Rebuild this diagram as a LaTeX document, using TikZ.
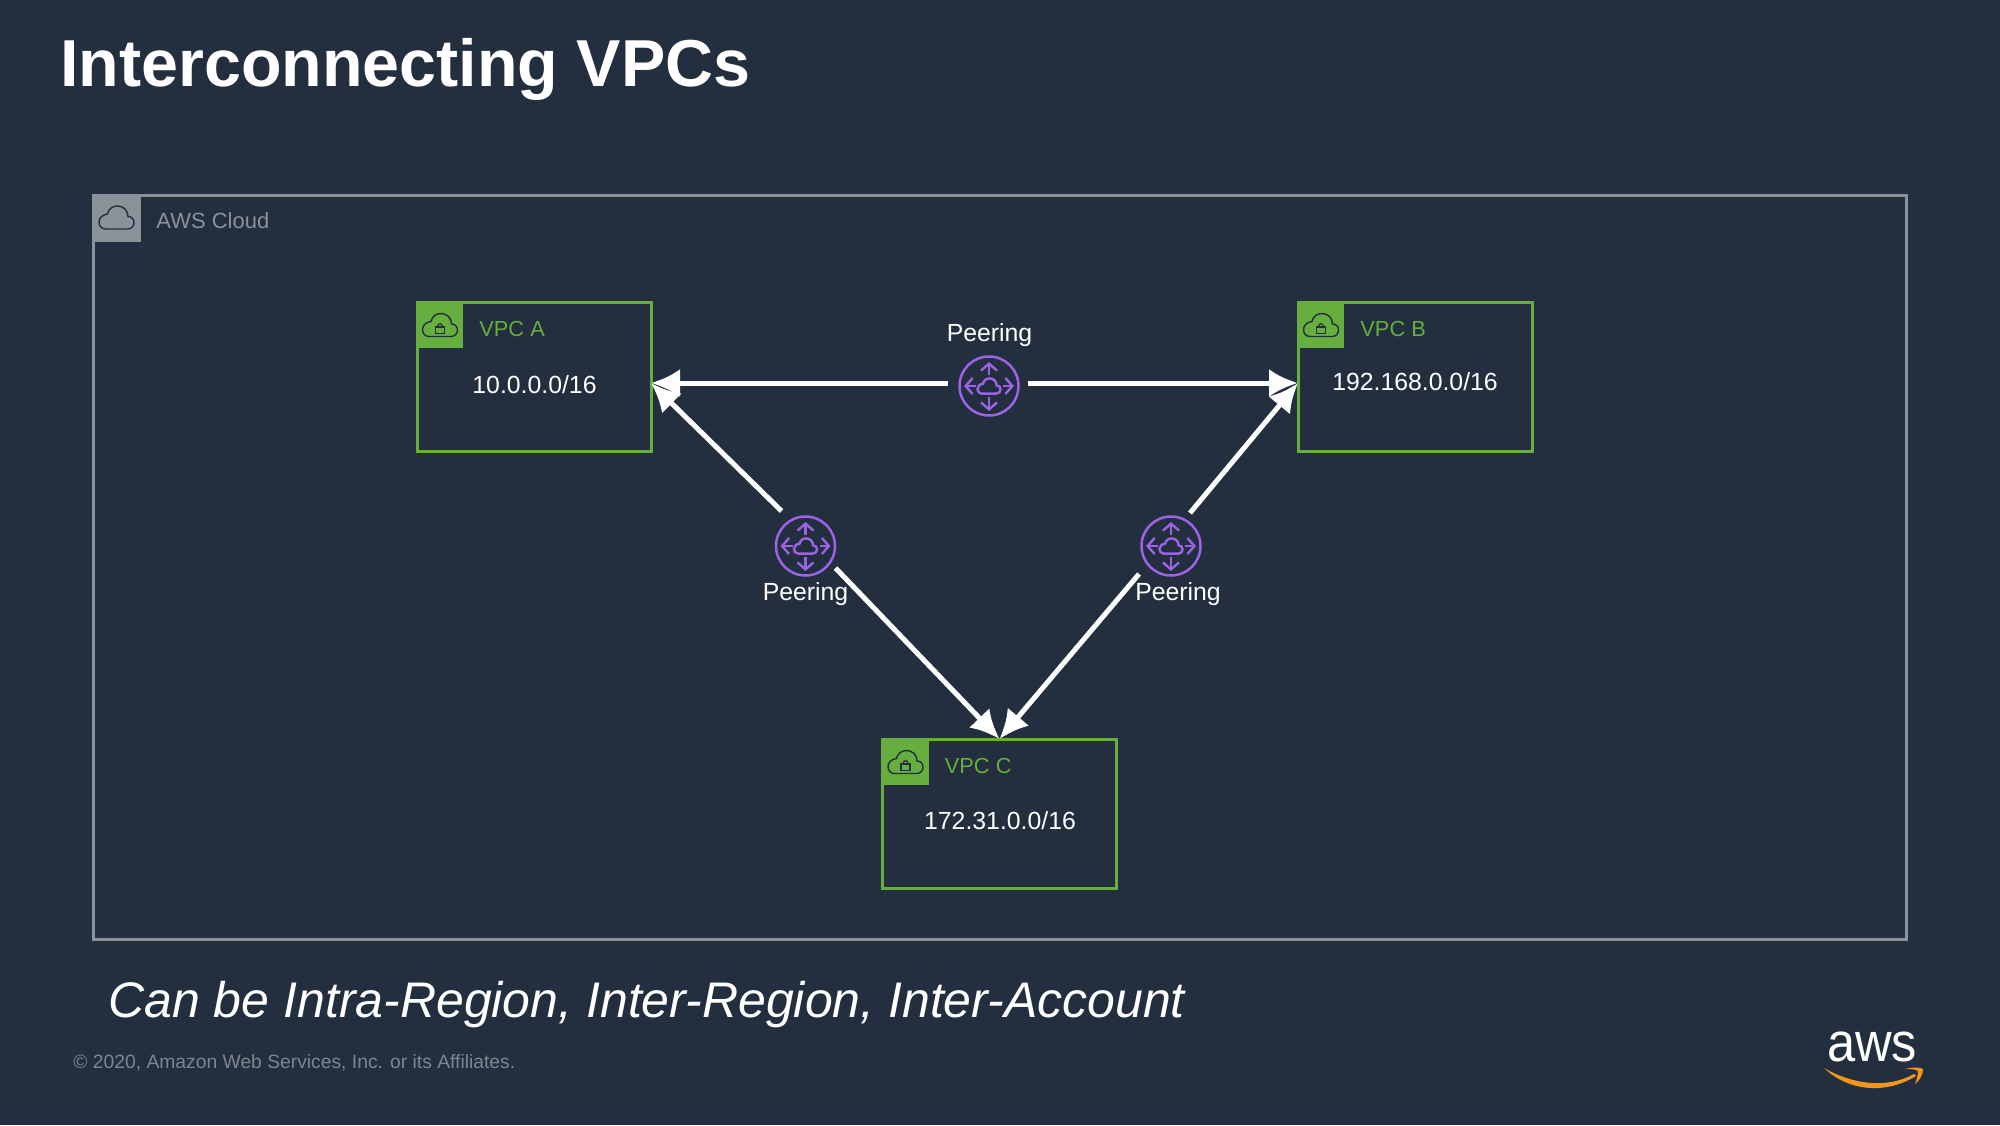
\documentclass[tikz,border=0pt]{standalone}
\usepackage{fontspec}
\setmainfont{Liberation Sans}
\usepackage{xcolor}
\definecolor{slidebg}{HTML}{232F3E}
\definecolor{cloudgray}{HTML}{8A9199}
\definecolor{footgray}{HTML}{7D8590}
\definecolor{vpcgreen}{HTML}{66AE3D}
\definecolor{peerpurple}{HTML}{9B63E6}
\definecolor{awsorange}{HTML}{F3971B}
\usetikzlibrary{arrows.meta, positioning}
\newcommand{\cloudpath}{(-11,11.5) -- (11,11.5) .. controls (15,11.5) and (17.5,8.5) .. (17.5,5) .. controls (17.5,1.5) and (15,-1) .. (11.5,-1) .. controls (11.5,-7) and (7,-11.5) .. (1,-11.5) .. controls (-4,-11.5) and (-8,-8.5) .. (-9,-3.5) .. controls (-14,-3) and (-17.5,0.5) .. (-17.5,4.5) .. controls (-17.5,8.5) and (-15,11.5) .. (-11,11.5) -- cycle}
\tikzstyle{frame}=[rectangle, draw=cloudgray, line width=1.5pt, minimum width=906.5pt, minimum height=372pt, inner sep=0pt, outer sep=0pt]
\tikzstyle{vpcbox}=[rectangle, draw=vpcgreen, line width=1.5pt, minimum width=117pt, minimum height=74.5pt, inner sep=0pt, outer sep=0pt]
\tikzstyle{vpctag}=[rectangle, fill=vpcgreen, minimum width=23pt, minimum height=23pt, inner sep=0pt, outer sep=0pt, anchor=north west]
\tikzstyle{cloudtag}=[rectangle, fill=cloudgray, minimum width=24.5pt, minimum height=24pt, inner sep=0pt, outer sep=0pt, anchor=north west]
\tikzstyle{peer}=[circle, draw=peerpurple, line width=1.25pt, minimum size=29.5pt, inner sep=0pt, outer sep=0pt]
\tikzstyle{label}=[inner sep=0pt, anchor=base, text=white, font=\fontsize{12.4}{14}\selectfont]
\tikzstyle{vpcname}=[inner sep=0pt, anchor=base west, text=vpcgreen, font=\fontsize{10.9}{13}\selectfont]
\tikzstyle{arrow}=[line width=2.5pt, white, -{Latex[length=14.5pt,width=14pt]}]
\tikzset{
	cloudicon/.pic={\draw[line width=.7pt, slidebg] \cloudpath;},
	lockicon/.pic={
		\draw[line width=.6pt, slidebg] (-4.5,0) rectangle (4.5,6.5);
		\draw[line width=.6pt, slidebg] (-2.5,0) .. controls (-2.5,-4.5) and (2.5,-4.5) .. (2.5,0);
	},
	peericon/.pic={
		\draw[line width=1.2pt, peerpurple, scale=.66] \cloudpath;
		\draw[line width=1.2pt, peerpurple, -{Straight Barb[length=3.5pt,width=8pt]}] (0,-11) -- (0,-24);
		\draw[line width=1.2pt, peerpurple, -{Straight Barb[length=3.5pt,width=8pt]}] (0,11) -- (0,25);
		\draw[line width=1.2pt, peerpurple, -{Straight Barb[length=3.5pt,width=8pt]}] (-13,0) -- (-25,0);
		\draw[line width=1.2pt, peerpurple, -{Straight Barb[length=3.5pt,width=8pt]}] (14,0) -- (25,0);
	}
}
\begin{document}
\begin{tikzpicture}[x=.5pt, y=-.5pt]
	\useasboundingbox (0,0) rectangle (2000,1125);
	\fill[slidebg] (0,0) rectangle (2000,1125);
	\node(title)[inner sep=0pt, anchor=base west, text=white, font=\fontsize{33.2}{40}\selectfont\bfseries] at (60,86){Interconnecting VPCs};

	\node(awscloud)[frame] at (999.5,567){};
	\node(cloudtagbox)[cloudtag] at (92,193.5){};
	\pic at (cloudtagbox){cloudicon};
	\node(cloudname)[inner sep=0pt, anchor=base west, text=cloudgray, font=\fontsize{11}{13}\selectfont, right=7.5pt of cloudtagbox.east, anchor=base west, yshift=-5.5pt]{AWS Cloud};

	\node(vpca)[vpcbox] at (534,376.5){};
	\node(vpcb)[vpcbox, right=323.5pt of vpca]{};
	\node(vpcc)[vpcbox] at (999.5,813.5){};
	\foreach \vpc/\name in {vpca/VPC A, vpcb/VPC B, vpcc/VPC C}{
		\node(\vpc tag)[vpctag] at (\vpc.north west){};
		\pic at (\vpc tag){cloudicon};
		\pic at ([yshift=-1pt]\vpc tag.center){lockicon};
		\node(\vpc name)[vpcname, right=8pt of \vpc tag.east, anchor=base west, yshift=-5.5pt]{\name};
	}
	\node(cidra)[label] at (534.5,393){10.0.0.0/16};
	\node(cidrb)[label] at (1415,390){192.168.0.0/16};
	\node(cidrc)[label] at (1000,829){172.31.0.0/16};

	\node(peerab)[peer] at (989,386){};
	\node(peerac)[peer] at (805.5,546){};
	\node(peerbc)[peer] at (1171,546){};
	\foreach \p in {peerab, peerac, peerbc}{
		\pic at (\p){peericon};
	}
	\node(labelab)[label] at (989.5,341){Peering};
	\node(labelac)[label] at (805.5,600){Peering};
	\node(labelbc)[label] at (1178,600){Peering};

	\draw[arrow]([shift={(-41,-3)}]peerab.center)--([shift={(0,6.5)}]vpca.east);
	\draw[arrow]([shift={(39,-3)}]peerab.center)--([shift={(0,6.5)}]vpcb.west);
	\draw[arrow]([shift={(-24,-35)}]peerac.center)--([shift={(0,6.5)}]vpca.east);
	\draw[arrow]([shift={(30,22)}]peerac.center)--(vpcc.north);
	\draw[arrow]([shift={(19,-33)}]peerbc.center)--([shift={(0,6.5)}]vpcb.west);
	\draw[arrow]([shift={(-32,28)}]peerbc.center)--(vpcc.north);

	\node(subtitle)[inner sep=0pt, anchor=base west, text=white, font=\fontsize{25}{29}\selectfont\itshape] at (108,1017){Can be Intra-Region, Inter-Region, Inter-Account};
	\node(copyright)[inner sep=0pt, anchor=base west, text=footgray, font=\fontsize{9.64}{12}\selectfont] at (73,1068){© 2020, Amazon Web Services, Inc. or its Affiliates.};

	\node(awsword)[inner sep=0pt, anchor=base, text=white, font=\fontsize{27.5}{31}\selectfont, xscale=.92, transform shape] at (1872,1061){aws};
	\fill[awsorange] (1824,1068) .. controls (1850,1083) and (1885,1090) .. (1914,1074) -- (1916,1076) .. controls (1885,1095) and (1848,1091) .. (1824,1068) -- cycle;
	\fill[awsorange] (1905,1069) .. controls (1912,1067) and (1920,1067) .. (1923,1069) .. controls (1923,1074) and (1920,1080) .. (1915,1084) .. controls (1917,1079) and (1918,1074) .. (1918,1071) .. controls (1915,1069) and (1910,1069) .. (1905,1069) -- cycle;
\end{tikzpicture}
\end{document}
